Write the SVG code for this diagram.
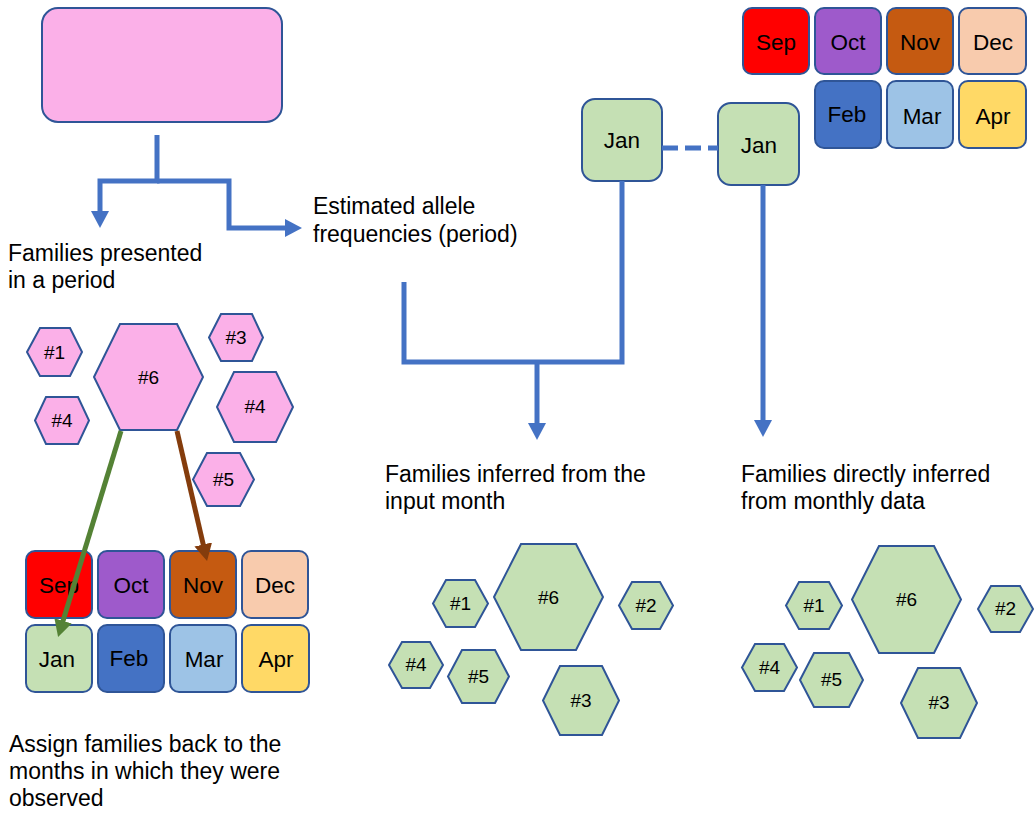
<svg xmlns="http://www.w3.org/2000/svg" width="1035" height="813" viewBox="0 0 1035 813">
<style>
text{font-family:"Liberation Sans",Arial,sans-serif;fill:#000}
.lbl{font-size:23px}
.mo{font-size:22.5px;text-anchor:middle}
.hx{font-size:19px;text-anchor:middle}
.hp{fill:#FBB0E8;stroke:#2F5597;stroke-width:2}
.hg{fill:#C5E0B4;stroke:#2F5597;stroke-width:2}
.t{stroke:#2F5597;stroke-width:2}
.conn{fill:none;stroke:#4472C4;stroke-width:5;stroke-linejoin:miter}
</style>
<defs>
<marker id="ab" markerUnits="userSpaceOnUse" markerWidth="18" markerHeight="18" refX="7" refY="9" orient="auto"><path d="M0,0 L17,9 L0,18 z" fill="#4472C4"/></marker>
<marker id="ag" markerUnits="userSpaceOnUse" markerWidth="18" markerHeight="18" refX="7" refY="9" orient="auto"><path d="M0,0 L17,9 L0,18 z" fill="#548235"/></marker>
<marker id="ar" markerUnits="userSpaceOnUse" markerWidth="18" markerHeight="18" refX="7" refY="9" orient="auto"><path d="M0,0 L17,9 L0,18 z" fill="#843C0C"/></marker>
</defs>
<rect width="1035" height="813" fill="#fff"/>

<g id="period-box"><rect x="42" y="8" width="240" height="114" rx="16" fill="#FBB0E8" stroke="#2F5597" stroke-width="2"/></g>

<g id="labels">
<text class="lbl" x="8" y="261">Families presented</text>
<text class="lbl" x="8" y="288">in a period</text>
<text class="lbl" x="313" y="214">Estimated allele</text>
<text class="lbl" x="313" y="242">frequencies (period)</text>
<text class="lbl" x="385" y="482">Families inferred from the</text>
<text class="lbl" x="385" y="509">input month</text>
<text class="lbl" x="741" y="482">Families directly inferred</text>
<text class="lbl" x="741" y="509">from monthly data</text>
<text class="lbl" x="9" y="752">Assign families back to the</text>
<text class="lbl" x="9" y="779">months in which they were</text>
<text class="lbl" x="9" y="806">observed</text>
</g>

<g id="pink-hexes">
<g id="p1"><polygon class="hp" points="27,352 40,328 70,328 82,352 70,376 40,376"/><text class="hx" x="54.5" y="359">#1</text></g>
<g id="p6"><polygon class="hp" points="94,377 120,324 177,324 203,377 177,430 120,430"/><text class="hx" x="148.5" y="384">#6</text></g>
<g id="p3"><polygon class="hp" points="209,337.5 221,314 252,314 263,337.5 252,361 221,361"/><text class="hx" x="236" y="344">#3</text></g>
<g id="p4a"><polygon class="hp" points="35,420.5 46,397 78,397 89,420.5 78,444 46,444"/><text class="hx" x="62" y="427">#4</text></g>
<g id="p4b"><polygon class="hp" points="217,407 234,372 276,372 293,407 276,442 234,442"/><text class="hx" x="255" y="413">#4</text></g>
<g id="p5"><polygon class="hp" points="193,479.5 207,453 240,453 254,479.5 240,506 207,506"/><text class="hx" x="223.5" y="486">#5</text></g>
</g>

<g id="months-left">
<g id="l-sep"><rect class="t" x="26" y="551" width="66" height="67" rx="9" fill="#FF0000"/><text class="mo" x="59" y="593">Sep</text></g>
<g id="l-oct"><rect class="t" x="98" y="551" width="66" height="67" rx="9" fill="#9E5ACB"/><text class="mo" x="131" y="593">Oct</text></g>
<g id="l-nov"><rect class="t" x="170" y="551" width="66" height="67" rx="9" fill="#C55A11"/><text class="mo" x="203" y="593">Nov</text></g>
<g id="l-dec"><rect class="t" x="242" y="551" width="66" height="67" rx="9" fill="#F8CBAD"/><text class="mo" x="275" y="593">Dec</text></g>
<g id="l-jan"><rect class="t" x="26" y="625" width="66" height="67" rx="9" fill="#C5E0B4"/><text class="mo" x="57" y="667">Jan</text></g>
<g id="l-feb"><rect class="t" x="98" y="625" width="66" height="67" rx="9" fill="#4472C4"/><text class="mo" x="129" y="666">Feb</text></g>
<g id="l-mar"><rect class="t" x="170" y="625" width="66" height="67" rx="9" fill="#9DC3E6"/><text class="mo" x="204" y="667">Mar</text></g>
<g id="l-apr"><rect class="t" x="242" y="625" width="67" height="67" rx="9" fill="#FFD966"/><text class="mo" x="276" y="667">Apr</text></g>
</g>

<g id="months-right">
<g id="r-sep"><rect class="t" x="743" y="8" width="66" height="66" rx="9" fill="#FF0000"/><text class="mo" x="776" y="50">Sep</text></g>
<g id="r-oct"><rect class="t" x="815" y="8" width="66" height="66" rx="9" fill="#9E5ACB"/><text class="mo" x="848" y="50">Oct</text></g>
<g id="r-nov"><rect class="t" x="887" y="8" width="66" height="66" rx="9" fill="#C55A11"/><text class="mo" x="920" y="50">Nov</text></g>
<g id="r-dec"><rect class="t" x="959" y="8" width="67" height="66" rx="9" fill="#F8CBAD"/><text class="mo" x="993" y="50">Dec</text></g>
<g id="r-feb"><rect class="t" x="815" y="81" width="66" height="67" rx="9" fill="#4472C4"/><text class="mo" x="847" y="122">Feb</text></g>
<g id="r-mar"><rect class="t" x="887" y="81" width="66" height="67" rx="9" fill="#9DC3E6"/><text class="mo" x="922" y="124">Mar</text></g>
<g id="r-apr"><rect class="t" x="959" y="81" width="67" height="67" rx="9" fill="#FFD966"/><text class="mo" x="993" y="124">Apr</text></g>
</g>

<g id="jan-input"><rect class="t" x="582" y="99" width="80" height="82" rx="13" fill="#C5E0B4"/><text class="mo" x="622" y="148">Jan</text></g>
<g id="jan-direct"><rect class="t" x="718" y="103" width="81" height="82" rx="13" fill="#C5E0B4"/><text class="mo" x="759" y="153">Jan</text></g>

<g id="green-hexes-input">
<g id="m1"><polygon class="hg" points="433,603.5 446,580 475,580 488,603.5 475,627 446,627"/><text class="hx" x="460.5" y="610">#1</text></g>
<g id="m6"><polygon class="hg" points="494,597 521,544 576,544 603,597 576,650 521,650"/><text class="hx" x="548.5" y="604">#6</text></g>
<g id="m2"><polygon class="hg" points="619,605.5 632,582 660,582 673,605.5 660,629 632,629"/><text class="hx" x="646" y="612">#2</text></g>
<g id="m4"><polygon class="hg" points="389,665 402,642 430,642 443,665 430,688 402,688"/><text class="hx" x="416" y="671">#4</text></g>
<g id="m5"><polygon class="hg" points="448,676.5 462,650 495,650 509,676.5 495,703 462,703"/><text class="hx" x="478.5" y="683">#5</text></g>
<g id="m3"><polygon class="hg" points="543,700.5 560,666 602,666 619,700.5 602,735 560,735"/><text class="hx" x="581" y="707">#3</text></g>
</g>

<g id="green-hexes-direct">
<g id="d1"><polygon class="hg" points="786,605.5 799,582 829,582 842,605.5 829,629 799,629"/><text class="hx" x="814" y="612">#1</text></g>
<g id="d6"><polygon class="hg" points="852,599.5 879,546 934,546 961,599.5 934,653 879,653"/><text class="hx" x="906.5" y="606">#6</text></g>
<g id="d2"><polygon class="hg" points="978,609 991,586 1020,586 1033,609 1020,632 991,632"/><text class="hx" x="1005.5" y="615">#2</text></g>
<g id="d4"><polygon class="hg" points="742,667.5 755,644 784,644 797,667.5 784,691 755,691"/><text class="hx" x="769.5" y="674">#4</text></g>
<g id="d5"><polygon class="hg" points="800,680 814,653 849,653 863,680 849,707 814,707"/><text class="hx" x="831.5" y="686">#5</text></g>
<g id="d3"><polygon class="hg" points="901,703 918,668 960,668 977,703 960,738 918,738"/><text class="hx" x="939" y="709">#3</text></g>
</g>

<g id="connectors">
<path class="conn" d="M157,135 V181 H100 V218" marker-end="url(#ab)"/>
<path class="conn" d="M157,181 H229 V228 H292" marker-end="url(#ab)"/>
<path class="conn" d="M404,282 V362 H622 V181"/>
<path class="conn" d="M537,362 V430" marker-end="url(#ab)"/>
<path class="conn" d="M763,185 V427" marker-end="url(#ab)"/>
<path class="conn" d="M662,148 H718" stroke-dasharray="16,7"/>
<path fill="none" stroke="#548235" stroke-width="5" d="M121,431 L61,627.5" marker-end="url(#ag)"/>
<path fill="none" stroke="#843C0C" stroke-width="5" d="M177,431 L204.8,551.3" marker-end="url(#ar)"/>
</g>
</svg>
